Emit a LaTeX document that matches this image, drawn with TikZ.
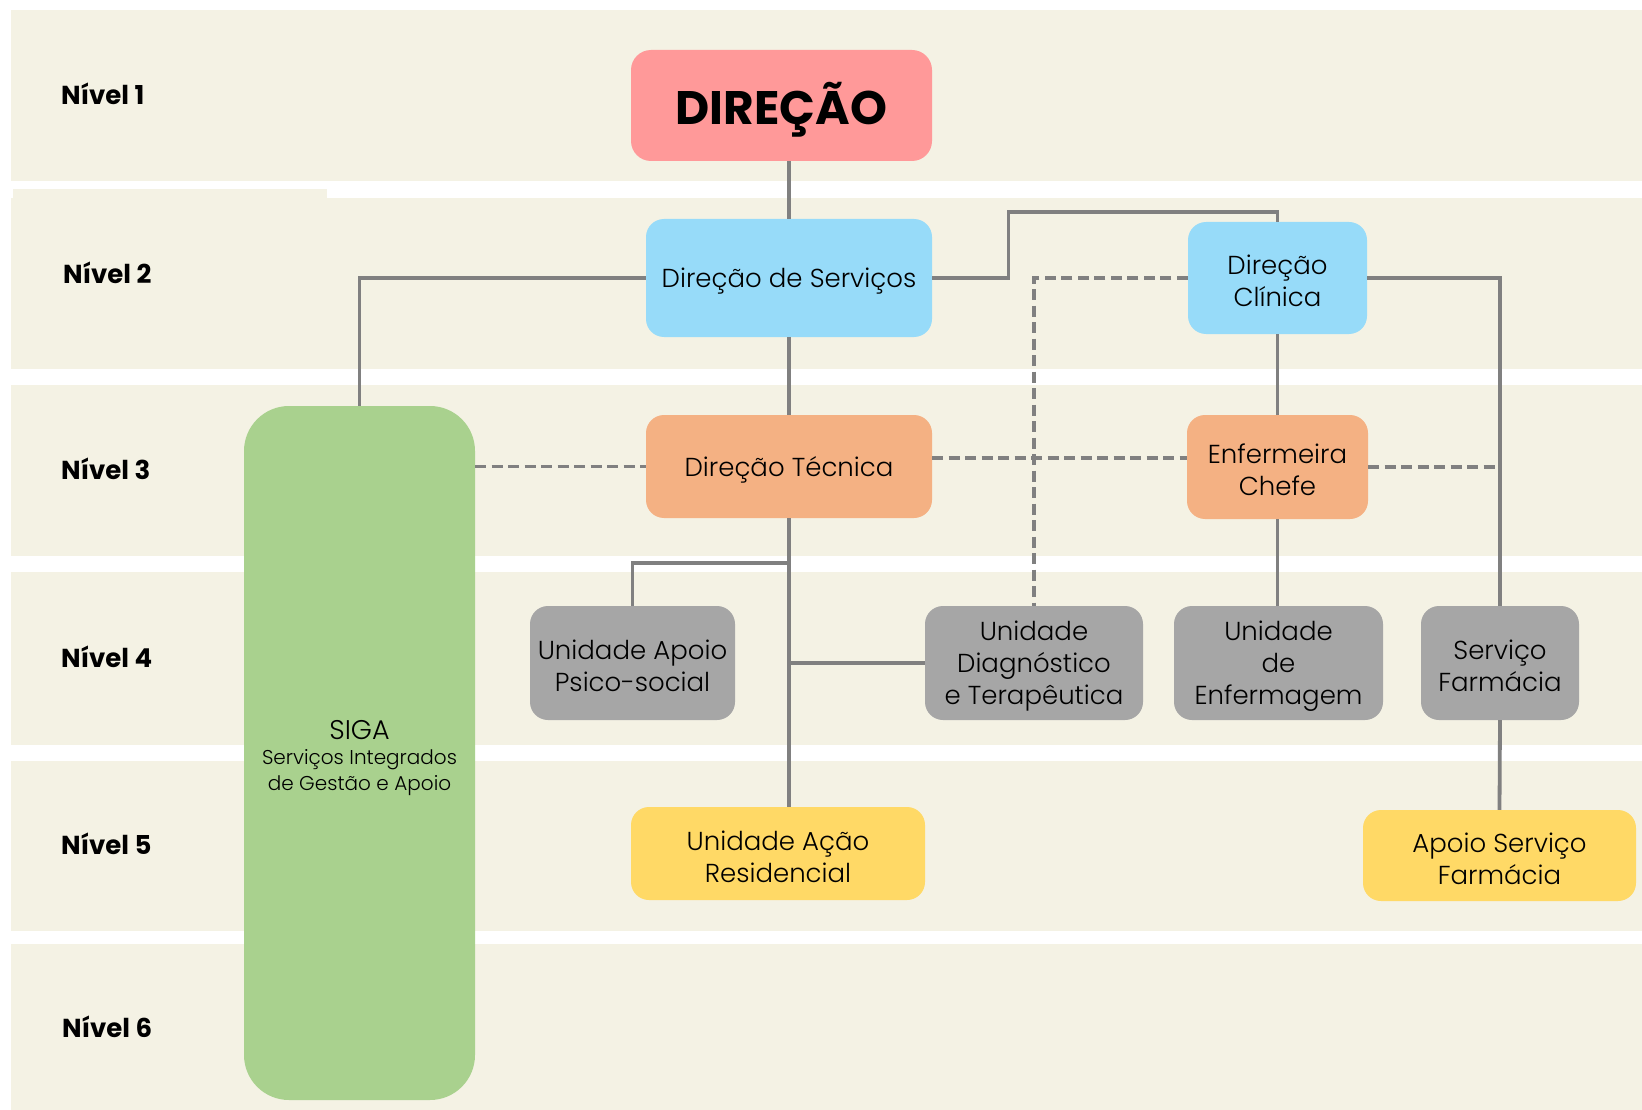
\documentclass[tikz,border=0pt]{standalone}
\usepackage{fontspec}
\setmainfont{Poppins}
\newfontfamily\boxfont{Poppins Light}
\definecolor{bandc}{HTML}{F4F2E4}
\definecolor{pinkc}{HTML}{FF9999}
\definecolor{bluec}{HTML}{97DBF9}
\definecolor{orangec}{HTML}{F4B183}
\definecolor{greenc}{HTML}{A9D18E}
\definecolor{greyc}{HTML}{A6A6A6}
\definecolor{yellowc}{HTML}{FFD966}
\definecolor{linec}{HTML}{808080}
\begin{document}
\begin{tikzpicture}[x=1pt,y=-1pt,
  band/.style={fill=bandc, draw=none},
  box/.style={rectangle, rounded corners=18pt, draw=none, inner sep=0pt},
  txt/.style={align=center, inner sep=0pt, text=black, font=\boxfont\fontsize{26}{32}\selectfont, yshift=-3pt},
  conn/.style={draw=linec, line width=3.8pt},
  dconn/.style={conn, dash pattern=on 11pt off 5.5pt},
  lvl/.style={anchor=west, inner sep=0pt, font=\bfseries\fontsize{26}{30}\selectfont}
]
\useasboundingbox[fill=white] (0,0) rectangle (1642,1110);
% bands
\fill[band] (11,10.5) rectangle (1642,181);
\fill[band] (11,198) rectangle (1642,369);
\fill[band] (13,189) rectangle (327,199);
\fill[band] (11,385) rectangle (1642,556);
\fill[band] (11,572) rectangle (1642,745);
\fill[band] (11,761) rectangle (1642,931);
\fill[band] (11,944) rectangle (1642,1110);
% level labels
\node[lvl] (l1) at (61,94) {Nível 1};
\node[lvl] (l2) at (63,273) {Nível 2};
\node[lvl] (l3) at (61,469) {Nível 3};
\node[lvl] (l4) at (61,657) {Nível 4};
\node[lvl] (l5) at (61,844) {Nível 5};
\node[lvl] (l6) at (62,1027) {Nível 6};
% boxes
\node[box, fill=pinkc, rounded corners=20pt, minimum width=301pt, minimum height=111pt,
  label={[txt, yshift=-1pt, font=\bfseries\fontsize{47}{52}\selectfont]center:DIREÇÃO}] (dir) at (781.5,105.5) {};
\node[box, fill=bluec, minimum width=286pt, minimum height=118pt, label={[txt]center:Direção de Serviços}] (ds) at (789,278) {};
\node[box, fill=bluec, minimum width=179pt, minimum height=112pt, label={[txt]center:Direção\\Clínica}] (dc) at (1277.5,278) {};
\node[box, fill=orangec, minimum width=286pt, minimum height=103pt, label={[txt]center:Direção Técnica}] (dt) at (789,466.5) {};
\node[box, fill=orangec, minimum width=181pt, minimum height=104pt, label={[txt]center:Enfermeira\\Chefe}] (ec) at (1277.5,467) {};
\node[box, fill=greenc, rounded corners=45pt, minimum width=231pt, minimum height=694pt] (siga) at (359.5,753) {};
\node[txt, font=\boxfont\fontsize{27}{29}\selectfont] (sigat) at (359.5,727.5) {SIGA};
\node[txt, font=\boxfont\fontsize{20}{26}\selectfont] (sigas) at (359.5,770) {Serviços Integrados\\de Gestão e Apoio};
\node[box, fill=greyc, minimum width=205pt, minimum height=114pt, label={[txt]center:Unidade Apoio\\Psico-social}] (uap) at (632.5,663) {};
\node[box, fill=greyc, minimum width=218pt, minimum height=114pt, label={[txt]center:Unidade\\Diagnóstico\\e Terapêutica}] (udt) at (1034,663) {};
\node[box, fill=greyc, minimum width=209pt, minimum height=114pt, label={[txt]center:Unidade\\de\\Enfermagem}] (ue) at (1278.5,663) {};
\node[box, fill=greyc, minimum width=158pt, minimum height=114pt, label={[txt]center:Serviço\\Farmácia}] (sf) at (1500,663) {};
\node[box, fill=yellowc, minimum width=273pt, minimum height=91pt, label={[txt]center:Apoio Serviço\\Farmácia}] (asf) at (1499.5,855.5) {};
\node[box, fill=yellowc, minimum width=294pt, minimum height=93pt, label={[txt]center:Unidade Ação\\Residencial}] (uar) at (778,853.5) {};
% connectors
\coordinate (k1) at (1008.5,212);
\coordinate (j1) at (789,563);
\draw[conn] (ds.north) -- (ds.north |- dir.south);
\draw[conn] (ds.west) -| (siga.north);
\draw[conn] (ds.east) -| (k1) -| (dc.north);
\draw[conn] (ds.south) -- (dt.north);
\draw[conn] (dc.south) -- (ec.north);
\draw[dconn] (dc.west) -| (udt.north);
\draw[dconn] (siga.east |- dt.west) -- (dt.west);
\draw[dconn] ([yshift=8.5pt]dt.east) -- ([yshift=8.5pt]dt.east -| ec.west);
\draw[dconn] (ec.east) -| ([xshift=0.5pt]sf.north);
\draw[conn] (dc.east) -| (sf.north);
\draw[conn] (dt.south) -- (dt.south |- uar.north);
\draw[conn] (j1) -| (uap.north);
\draw[conn] (udt.west) -- (udt.west -| dt.south);
\draw[conn] (ec.south) -- (ec.south |- ue.north);
\draw[conn] (sf.south) -- (asf.north);
\end{tikzpicture}
\end{document}
